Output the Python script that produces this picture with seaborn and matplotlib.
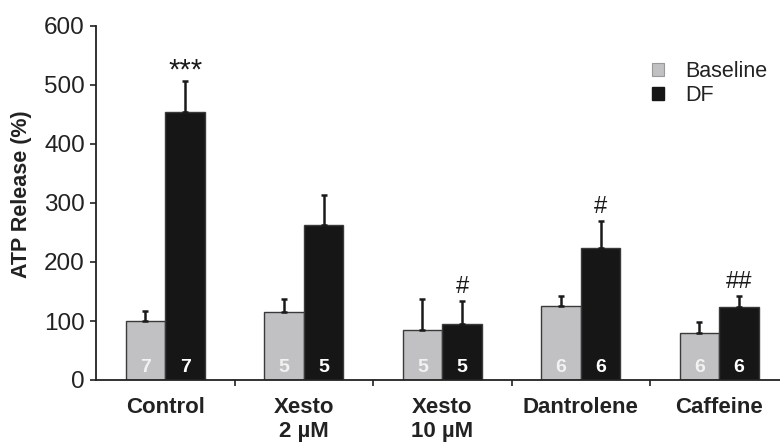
import matplotlib
matplotlib.use("Agg")
import matplotlib.pyplot as plt
import seaborn as sns
import pandas as pd
import numpy as np
from matplotlib.patches import Patch

categories = ["Control", "Xesto\n2 µM", "Xesto\n10 µM", "Dantrolene", "Caffeine"]
baseline = [100, 115, 84, 125, 80]
baseline_err = [17, 22, 53, 17, 18]
df_vals = [454, 263, 95, 224, 124]
df_err = [52, 50, 39, 46, 19]
n_baseline = ["7", "5", "5", "6", "6"]
n_df = ["7", "5", "5", "6", "6"]
df_marks = ["***", "", "#", "#", "##"]
series = ["Baseline", "DF"]

sns.set_style("ticks")
plt.rcParams["font.family"] = ["Liberation Sans", "DejaVu Sans"]

data = pd.DataFrame({
    "category": categories * 2,
    "series": [series[0]] * len(categories) + [series[1]] * len(categories),
    "value": baseline + df_vals,
})

fig = plt.figure(figsize=(7.8, 4.42), dpi=100)
ax = fig.add_axes([96 / 780, 62 / 442, 1 - 96 / 780, (380 - 26) / 442])

sns.barplot(data=data, x="category", y="value", hue="series", order=categories,
            hue_order=series, palette=["#c1c1c3", "#161616"], width=0.574,
            errorbar=None, edgecolor="#3a3a3a", linewidth=1.0, saturation=1,
            ax=ax, legend=False)

bar_conts = [c for c in ax.containers]
errs = [baseline_err, df_err]
nums = [n_baseline, n_df]
numcolors = ["#f2f2f2", "#ffffff"]
for ci, cont in enumerate(bar_conts):
    for j, bar in enumerate(cont.patches):
        xc = bar.get_x() + bar.get_width() / 2
        h = bar.get_height()
        ax.errorbar([xc], [h], yerr=[[0], [errs[ci][j]]], fmt="none",
                    ecolor="#1a1a1a", elinewidth=1.8, capsize=1.9, capthick=1.8, zorder=1)
        ax.text(xc, 22, nums[ci][j], ha="center", va="center", color=numcolors[ci],
                fontsize=14, fontweight="bold", zorder=4)
        if ci == 1 and df_marks[j]:
            if df_marks[j].startswith("*"):
                ax.text(xc, h + errs[ci][j] - 6, df_marks[j], ha="center", va="bottom",
                        color="#1a1a1a", fontsize=21, zorder=4)
            else:
                ax.text(xc, h + errs[ci][j] + 5, df_marks[j], ha="center", va="bottom",
                        color="#1a1a1a", fontsize=17, zorder=4)

ax.set_xlim(-0.5, -0.5 + (780 - 96) / 138.5)
ax.set_ylim(0, 600)
ax.set_yticks([0, 100, 200, 300, 400, 500, 600])
ax.tick_params(axis="y", labelsize=17.5, colors="#222222", length=4, width=1.2, pad=4)
ax.set_xticks(range(len(categories)))
ax.set_xticklabels(categories, fontsize=16, fontweight="bold", color="#222222")
ax.tick_params(axis="x", length=0, pad=12)
ax.set_xticks([0.5, 1.5, 2.5, 3.5], minor=True)
ax.tick_params(axis="x", which="minor", length=4, width=1.2, direction="out", color="#222222")
for lbl in ax.get_xticklabels():
    lbl.set_verticalalignment("top")
    lbl.set_linespacing(1.22)
ax.set_xlabel("")
ax.set_ylabel("ATP Release (%)", fontsize=15.5, fontweight="bold", color="#222222")
ax.yaxis.set_label_coords(-0.094, 0.525)
sns.despine(ax=ax, top=True, right=True)
for s in ["left", "bottom"]:
    ax.spines[s].set_linewidth(1.3)
    ax.spines[s].set_color("#222222")

handles = [Patch(facecolor="#c1c1c3", edgecolor="#999999", linewidth=0.8),
           Patch(facecolor="#161616", edgecolor="#161616")]
leg = ax.legend(handles, series, loc="upper left", frameon=False, fontsize=15.5,
                handlelength=0.55, handleheight=0.55, handletextpad=1.0, labelspacing=0.15,
                borderaxespad=0, borderpad=0)
leg.set_bbox_to_anchor((652 / 780, 1 - 61 / 442), transform=fig.transFigure)
for t in leg.get_texts():
    t.set_color("#222222")

fig.savefig("out.png", dpi=100)
